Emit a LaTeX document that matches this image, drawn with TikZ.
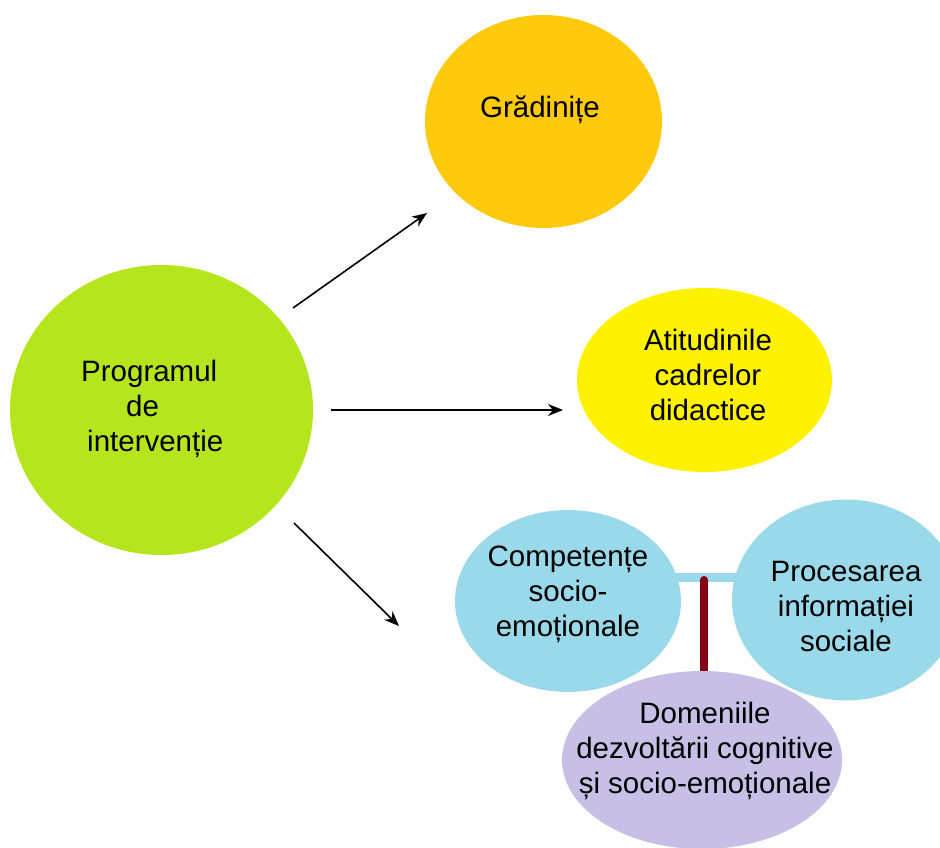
\documentclass[tikz,border=0pt]{standalone}
\usepackage{fontspec}
\setmainfont{Liberation Sans}
\usetikzlibrary{shapes.geometric,arrows.meta}
\definecolor{cgreen}{HTML}{B5E61D}
\definecolor{corange}{HTML}{FFC90E}
\definecolor{cyellow}{HTML}{FFF200}
\definecolor{cblue}{HTML}{99D9EA}
\definecolor{cpurple}{HTML}{C8BFE7}
\definecolor{cdred}{HTML}{880015}
\tikzset{
  blob/.style={ellipse, draw=none, inner sep=0pt},
  lbl/.style={align=center, inner sep=0pt, font=\fontsize{29.5}{35}\selectfont},
  arr/.style={line width=1.6pt, -{Stealth[length=15pt,width=12pt]}},
}
\begin{document}
\begin{tikzpicture}[x=1pt,y=-1pt]
\useasboundingbox (0,0) rectangle (940,848);
% bar between the two blue ellipses
\coordinate (barL) at (650,577);
\coordinate (barR) at (760,577);
\draw[cblue, line width=9pt] (barL) -- (barR);
% ellipses
\node[blob, fill=cgreen, minimum width=303pt, minimum height=290pt] (green) at (161.5,410) {};
\node[blob, fill=corange, minimum width=237pt, minimum height=213pt] (orange) at (543.5,121.5) {};
\node[blob, fill=cyellow, minimum width=255pt, minimum height=184pt] (yellow) at (704.5,380) {};
\node[blob, fill=cblue, minimum width=226pt, minimum height=182pt] (bl) at (568,601) {};
\node[blob, fill=cblue, minimum width=228pt, minimum height=201pt] (br) at (846,600) {};
% dark red connector
\coordinate (rtop) at (704,580);
\coordinate (rbot) at (704,690);
\draw[cdred, line width=8pt, line cap=round] (rtop) -- (rbot);
\node[blob, fill=cpurple, minimum width=280pt, minimum height=178pt] (purple) at (702,760) {};
% texts
\node[lbl, align=left, anchor=west] (tgreen) at (81,409) {Programul\\\hspace*{45pt}de\\\hspace*{6pt}intervenție};
\node[lbl] (torange) at (540,110) {Grădinițe};
\node[lbl] (tyellow) at (708,375) {Atitudinile\\cadrelor\\didactice};
\node[lbl] (tbl) at (568,594) {Competențe\\socio-\\emoționale};
\node[lbl] (tbr) at (846,606) {Procesarea\\informației\\sociale};
\node[lbl] (tpurple) at (705,751) {Domeniile\\dezvoltării cognitive\\și socio-emoționale};
% arrows
\coordinate (a1s) at (293,308);
\coordinate (a1e) at (427,213);
\coordinate (a2s) at (331,410);
\coordinate (a2e) at (563,410);
\coordinate (a3s) at (294,523);
\coordinate (a3e) at (399,626);
\draw[arr] (a1s) -- (a1e);
\draw[arr] (a2s) -- (a2e);
\draw[arr] (a3s) -- (a3e);
\end{tikzpicture}
\end{document}
